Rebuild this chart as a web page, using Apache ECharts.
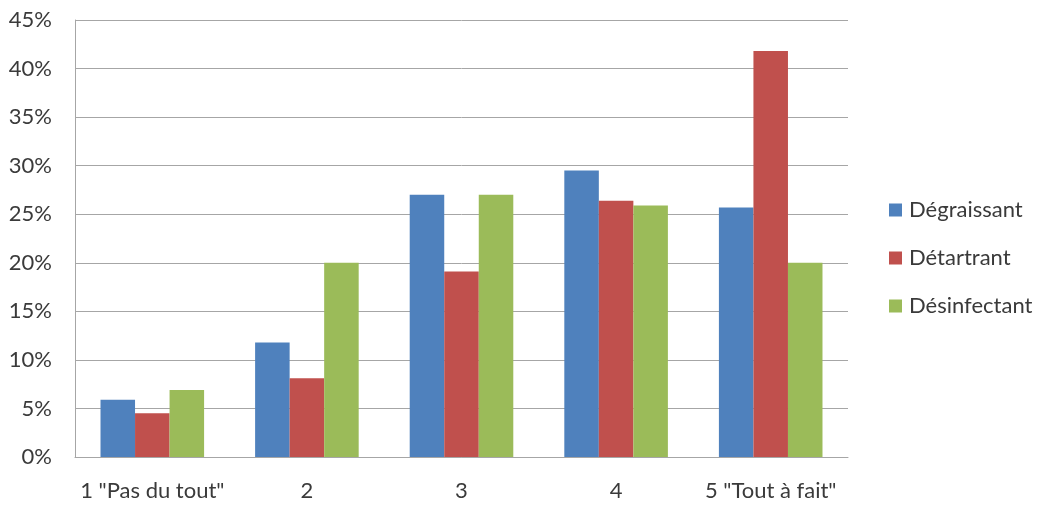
<!DOCTYPE html>
<html>
<head>
<meta charset="utf-8">
<script src="https://cdn.jsdelivr.net/npm/echarts@6/dist/echarts.min.js"></script>
<style>
  html, body { margin: 0; padding: 0; background: #fff; }
  #chart { width: 1045px; height: 505px; }
</style>
</head>
<body>
<div id="chart"></div>
<script>
// Rating scale categories (1 = not at all, 5 = completely)
const categories = ['1 "Pas du tout"', '2', '3', '4', '5 "Tout à fait"'];

// Share of answers per product type, in percent
const degraissant = [5.9, 11.8, 27.0, 29.5, 25.7];
const detartrant = [4.5, 8.1, 19.1, 26.4, 41.8];
const desinfectant = [6.9, 20.0, 27.0, 25.9, 20.0];

const seriesNames = ['Dégraissant', 'Détartrant', 'Désinfectant'];
const seriesColors = ['#4F81BD', '#C0504D', '#9BBB59'];

const FONT = 'Lato, "Noto Sans", sans-serif';
const TEXT = '#3a3a3a';

const chart = echarts.init(document.getElementById('chart'), null, { renderer: 'canvas' });

const values = [degraissant, detartrant, desinfectant];

chart.setOption({
  animation: false,
  backgroundColor: '#ffffff',
  color: seriesColors,
  grid: { left: 75, right: 197, top: 20, bottom: 48, containLabel: false },
  legend: {
    orient: 'vertical',
    left: 884,
    top: 194,
    itemWidth: 13,
    itemHeight: 13,
    itemGap: 26,
    icon: 'rect',
    data: seriesNames,
    textStyle: { fontFamily: FONT, fontSize: 22, color: TEXT, padding: [0, 0, 0, 2] }
  },
  xAxis: {
    type: 'category',
    data: categories,
    axisLine: { show: true, lineStyle: { color: '#A6A6A6', width: 1 } },
    axisTick: { show: false },
    axisLabel: { fontFamily: FONT, fontSize: 22, color: TEXT, margin: 23, interval: 0 },
    splitLine: { show: false }
  },
  yAxis: {
    type: 'value',
    min: 0,
    max: 45,
    interval: 5,
    axisLine: { show: true, lineStyle: { color: '#A6A6A6', width: 1 } },
    axisTick: { show: false },
    axisLabel: { fontFamily: FONT, fontSize: 22, color: TEXT, margin: 23, formatter: '{value}%' },
    splitLine: { show: true, lineStyle: { color: '#A6A6A6', width: 1 } }
  },
  series: seriesNames.map((name, i) => ({
    name: name,
    type: 'bar',
    data: values[i],
    barGap: '0%',
    barCategoryGap: '33%',
    itemStyle: { color: seriesColors[i] }
  }))
});
</script>
</body>
</html>
